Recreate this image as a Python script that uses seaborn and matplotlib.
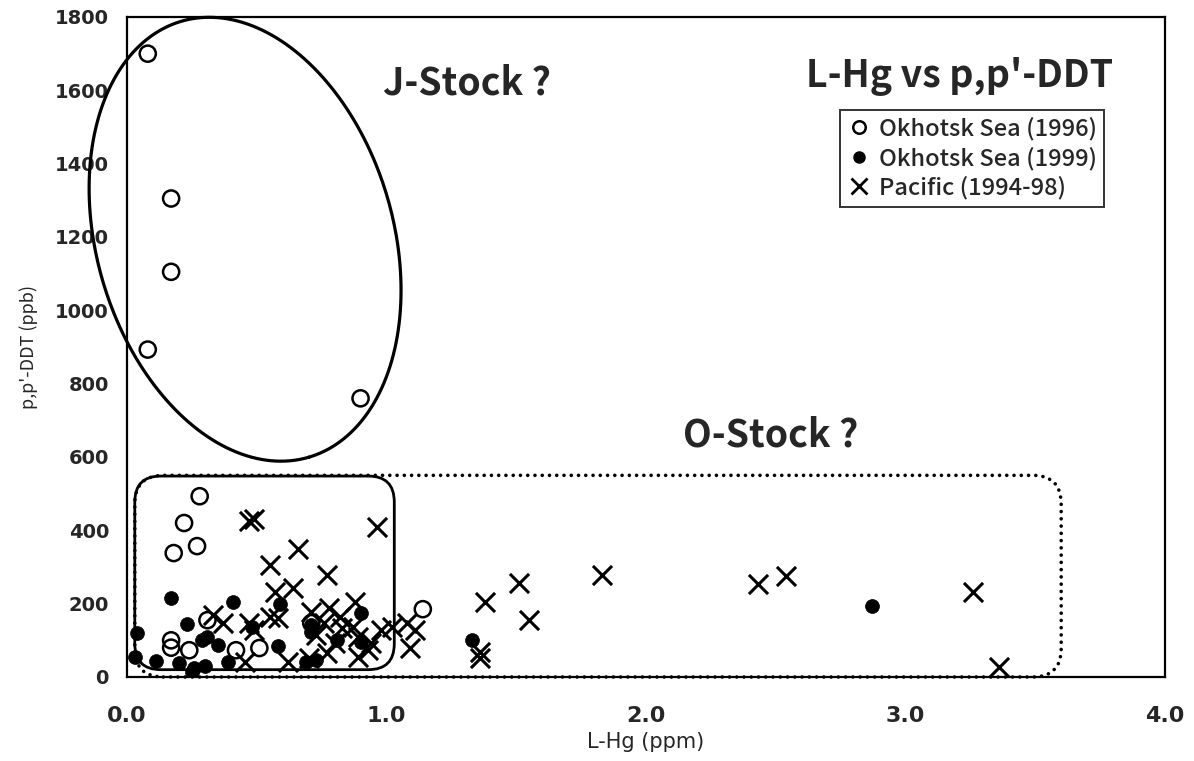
import numpy as np
import pandas as pd
import matplotlib
matplotlib.use("Agg")
import matplotlib.pyplot as plt
from matplotlib.patches import FancyBboxPatch
from matplotlib.lines import Line2D
import seaborn as sns

# Okhotsk Sea (1996) - open circles
hg_1996 = [0.08, 0.17, 0.17, 0.08, 0.90, 0.28, 0.22, 0.18, 0.27, 1.14,
           0.17, 0.17, 0.24, 0.31, 0.42, 0.51, 0.71]
ddt_1996 = [1700, 1305, 1105, 893, 760, 493, 420, 338, 357, 185,
            100, 80, 73, 155, 73, 79, 147]

# Okhotsk Sea (1999) - filled circles
hg_1999 = [0.17, 0.41, 0.23, 0.04, 0.03, 0.11, 0.59, 0.58, 0.35, 0.20,
           0.26, 0.31, 0.39, 0.71, 0.48, 0.29, 0.90, 0.71, 0.81, 0.90,
           0.73, 0.69, 1.33, 2.87, 0.25, 0.30]
ddt_1999 = [215, 205, 145, 120, 55, 45, 198, 85, 87, 38,
            25, 110, 42, 142, 136, 100, 175, 122, 100, 95,
            46, 42, 100, 193, 15, 30]

# Pacific (1994-98) - crosses
hg_pac = [0.47, 0.49, 0.55, 0.66, 0.57, 0.64, 0.33, 0.37, 0.47, 0.49,
          0.55, 0.58, 0.455, 0.62, 0.965, 0.77, 0.71, 0.78, 0.88, 0.82,
          0.76, 0.73, 0.83, 0.80, 0.87, 0.89, 0.98, 1.02, 1.08, 1.11,
          1.09, 0.89, 0.77, 0.70, 0.94, 0.93, 1.38, 1.51, 1.55, 1.36,
          1.36, 1.83, 2.43, 2.54, 3.26, 3.36]
ddt_pac = [425, 432, 305, 348, 232, 242, 170, 147, 147, 128,
           163, 160, 40, 40, 409, 278, 177, 188, 205, 163,
           147, 114, 133, 93, 136, 109, 128, 136, 147, 128,
           79, 55, 65, 52, 93, 74, 204, 256, 155, 68,
           52, 278, 253, 275, 231, 27]

series_labels = ["Okhotsk Sea (1996)", "Okhotsk Sea (1999)", "Pacific (1994-98)"]
x_ticks = [0.0, 1.0, 2.0, 3.0, 4.0]
x_ticklabels = ["0.0", "1.0", "2.0", "3.0", "4.0"]
y_ticks = [0, 200, 400, 600, 800, 1000, 1200, 1400, 1600, 1800]

# outline of the J-stock group (closed curve, data coordinates)
j_outline_x = [0.332, 0.564, 0.718, 0.873, 1.015, 1.054, 1.027, 0.938, 0.795,
               0.564, 0.347, 0.166, 0.0, -0.104, -0.151, -0.116, -0.015, 0.127]
j_outline_y = [1797, 1754, 1661, 1517, 1291, 1054, 891, 735, 626,
               585, 637, 754, 918, 1100, 1326, 1517, 1661, 1762]

sns.set_style("white")
plt.rcParams["font.family"] = ["Noto Sans CJK JP", "DejaVu Sans"]

df = pd.concat([
    pd.DataFrame({"hg": hg_1996, "ddt": ddt_1996, "group": series_labels[0]}),
    pd.DataFrame({"hg": hg_1999, "ddt": ddt_1999, "group": series_labels[1]}),
    pd.DataFrame({"hg": hg_pac, "ddt": ddt_pac, "group": series_labels[2]}),
], ignore_index=True)

fig = plt.figure(figsize=(11.94, 7.61), dpi=100)
ax_left, ax_right, ax_top, ax_bottom = 127, 1165, 17, 677
ax = fig.add_axes([ax_left / 1194, 1 - ax_bottom / 761,
                   (ax_right - ax_left) / 1194, (ax_bottom - ax_top) / 761])
ax.set_xlim(0, 4)
ax.set_ylim(0, 1800)
px_per_x = (ax_right - ax_left) / 4.0
px_per_y = (ax_bottom - ax_top) / 1800.0

# crosses
sns.scatterplot(data=df[df.group == series_labels[2]], x="hg", y="ddt",
                marker="x", s=190, color="black", linewidth=2.2, ax=ax,
                legend=False, zorder=3)
# filled circles
sns.scatterplot(data=df[df.group == series_labels[1]], x="hg", y="ddt",
                marker="o", s=100, color="black", edgecolor="black",
                linewidth=0.5, ax=ax, legend=False, zorder=4)
# open circles
sns.scatterplot(data=df[df.group == series_labels[0]], x="hg", y="ddt",
                marker="o", s=135, facecolor="none", edgecolor="black",
                linewidth=1.8, ax=ax, legend=False, zorder=5)


def fitted_ellipse(xs, ys, n=400):
    """Least-squares conic fit of the outline points, done in screen units."""
    sx = np.asarray(xs, float) * px_per_x
    sy = np.asarray(ys, float) * px_per_y
    mx, my = sx.mean(), sy.mean()
    u, v = sx - mx, sy - my
    A = np.column_stack([u * u, u * v, v * v, u, v])
    a, b, c, d, e = np.linalg.lstsq(A, np.ones_like(u), rcond=None)[0]
    M2 = np.array([[2 * a, b], [b, 2 * c]])
    u0, v0 = np.linalg.solve(M2, [-d, -e])
    f0 = a * u0 ** 2 + b * u0 * v0 + c * v0 ** 2 + d * u0 + e * v0 - 1
    lam, vec = np.linalg.eigh(np.array([[a, b / 2], [b / 2, c]]))
    semi = np.sqrt(-f0 / lam)
    t = np.linspace(0, 2 * np.pi, n)
    pts = vec @ np.vstack([semi[0] * np.cos(t), semi[1] * np.sin(t)])
    ex = (pts[0] + u0 + mx) / px_per_x
    ey = (pts[1] + v0 + my) / px_per_y
    return ex, ey


ox, oy = fitted_ellipse(j_outline_x, j_outline_y)
ax.plot(ox, oy, color="black", lw=2.3, clip_on=False, zorder=2)

# rounded boxes: corners made circular on screen through mutation_aspect
aspect = px_per_x / px_per_y
solid_box = FancyBboxPatch((0.03, 20), 1.0, 528,
                           boxstyle="round,pad=0,rounding_size=0.1",
                           mutation_aspect=aspect, fill=False,
                           edgecolor="black", lw=2.0, clip_on=False, zorder=2)
ax.add_patch(solid_box)
dotted_box = FancyBboxPatch((0.03, 0), 3.57, 550,
                            boxstyle="round,pad=0,rounding_size=0.11",
                            mutation_aspect=aspect, fill=False,
                            edgecolor="black", lw=2.6,
                            linestyle=(0, (0.01, 2.0)), capstyle="round",
                            clip_on=False, zorder=2)
ax.add_patch(dotted_box)

label_font = dict(fontsize=27, fontweight="bold", ha="center", va="center")
ax.text(1.31, 1620, "J-Stock ?", **label_font)
ax.text(2.48, 659, "O-Stock ?", **label_font)
ax.text(3.21, 1637, "L-Hg vs p,p'-DDT", **label_font)

handles = [
    Line2D([], [], ls="none", marker="o", ms=9, mfc="none", mec="black", mew=1.8),
    Line2D([], [], ls="none", marker="o", ms=8, mfc="black", mec="black"),
    Line2D([], [], ls="none", marker="x", ms=12, mec="black", mew=2.0),
]
leg = ax.legend(handles, series_labels, loc="upper right",
                bbox_to_anchor=((1104 - ax_left) / (ax_right - ax_left),
                                (ax_bottom - 110) / (ax_bottom - ax_top)),
                frameon=True, fancybox=False, edgecolor="black",
                prop={"family": ["Noto Sans CJK JP", "DejaVu Sans"],
                      "size": 17, "weight": "medium"},
                handlelength=1.0, handletextpad=0.35, borderpad=0.3,
                labelspacing=0.25, borderaxespad=0)
leg.get_frame().set_linewidth(1.4)

ax.set_xticks(x_ticks)
ax.set_xticklabels(x_ticklabels, family=["Liberation Sans Narrow", "DejaVu Sans"],
                   fontsize=16, fontweight="bold")
ax.set_yticks(y_ticks)
ax.set_yticklabels([str(v) for v in y_ticks], family="DejaVu Sans",
                   fontsize=14, fontweight="bold")
ax.tick_params(axis="both", direction="in", length=6, width=1.2, color="black")
ax.tick_params(axis="x", pad=21)
ax.tick_params(axis="y", pad=13)

ax.set_xlabel("L-Hg (ppm)", family=["Liberation Sans Narrow", "DejaVu Sans"],
              fontsize=15, labelpad=4)
ax.set_ylabel("p,p'-DDT (ppb)", fontsize=13, labelpad=12)

for sp in ax.spines.values():
    sp.set_visible(True)
    sp.set_color("black")
    sp.set_linewidth(1.6)

fig.savefig("out.png", dpi=100, facecolor="white")
